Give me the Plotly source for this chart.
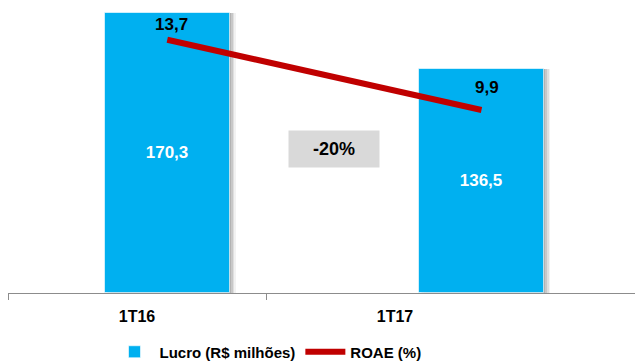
import plotly.graph_objects as go

# Data
categories = ["1T16", "1T17"]
lucro = [170.3, 136.5]          # Lucro (R$ milhões)
roae = [13.7, 9.9]              # ROAE (%)
variation_label = "-20%"

# Layout constants (x in category units, 1 unit = one category slot)
W, H = 635, 363
ML, MR, MT, MB = 8, 0, 0, 70
unit_px = 258.0
x_range = [-0.5, -0.5 + (W - ML - MR) / unit_px]
bar_width = 124.5 / unit_px
bar_offsets = [-0.124, 0.094]
y_max = 178.2
y2_max = 15.85
roae_label_shift_x = [4, 5]
roae_label_shift_y = [15, 22]

FONT = "Liberation Sans, Arial, sans-serif"
BLUE = "#00B0F0"
RED = "#C00000"

x_pos = list(range(len(categories)))
bar_centers = [x + o + bar_width / 2 for x, o in zip(x_pos, bar_offsets)]
plot_w = W - ML - MR
plot_h = H - MT - MB

fig = go.Figure()

# soft shadow to the right of each bar
for k, alpha in enumerate([0.10, 0.10, 0.08, 0.05]):
    shift = (k + 1) * 1.6 / unit_px
    fig.add_trace(go.Bar(
        x=x_pos, y=lucro, width=bar_width,
        offset=[o + shift for o in bar_offsets],
        marker=dict(color=f"rgba(0,0,0,{alpha})", line=dict(width=0)),
        showlegend=False, hoverinfo="skip",
    ))

fig.add_trace(go.Bar(
    x=x_pos, y=lucro, width=bar_width, offset=bar_offsets,
    name="Lucro (R$ milhões)",
    marker=dict(color=BLUE, line=dict(color="rgba(255,255,255,0.6)", width=1)),
    texttemplate="%{y:.1f}", textposition="inside", insidetextanchor="middle",
    textfont=dict(color="white", size=17, family=FONT, weight="bold"),
    textangle=0,
))

fig.add_trace(go.Scatter(
    x=bar_centers, y=roae, yaxis="y2", mode="lines",
    name="ROAE (%)",
    line=dict(color=RED, width=6),
))

# ROAE value labels above the line ends
for xc, v, dx, dy in zip(bar_centers, roae, roae_label_shift_x, roae_label_shift_y):
    fig.add_annotation(
        x=xc, y=v, xref="x", yref="y2", text=f"{v:.1f}".replace(".", ","),
        showarrow=False, xshift=dx, yshift=dy,
        font=dict(color="black", size=17, family=FONT, weight="bold"),
    )

fig.add_annotation(
    x=(334 - ML) / plot_w, y=(293 - 149.5) / plot_h,
    xref="paper", yref="paper", text=variation_label, showarrow=False,
    width=90, height=36, bgcolor="#D9D9D9", borderpad=0,
    font=dict(color="black", size=18, family=FONT, weight="bold"),
)

fig.update_layout(
    width=W, height=H,
    margin=dict(l=ML, r=MR, t=MT, b=MB, autoexpand=False),
    paper_bgcolor="white", plot_bgcolor="white",
    barmode="overlay", bargap=0,
    separators=",.",
    font=dict(family=FONT, size=16, color="black", weight="bold"),
    xaxis=dict(
        range=x_range, tickvals=x_pos, ticktext=categories,
        showgrid=False, zeroline=False, showline=True,
        linecolor="#8C8C8C", linewidth=1, ticks="",
        ticklabelstandoff=9,
        tickfont=dict(size=16, family=FONT, weight="bold"),
        minor=dict(tickvals=[-0.5, 0.5], ticks="outside", ticklen=6,
                   tickcolor="#8C8C8C", tickwidth=1, showgrid=False),
    ),
    yaxis=dict(range=[0, y_max], visible=False),
    yaxis2=dict(range=[0, y2_max], overlaying="y", visible=False),
    legend=dict(
        orientation="h", x=(268 - ML) / plot_w, xanchor="center",
        yref="container", y=(H - 352) / H, yanchor="middle",
        font=dict(size=15, family=FONT, weight="bold"),
        itemwidth=40,
    ),
    showlegend=True,
)

fig.write_html("out.html")
